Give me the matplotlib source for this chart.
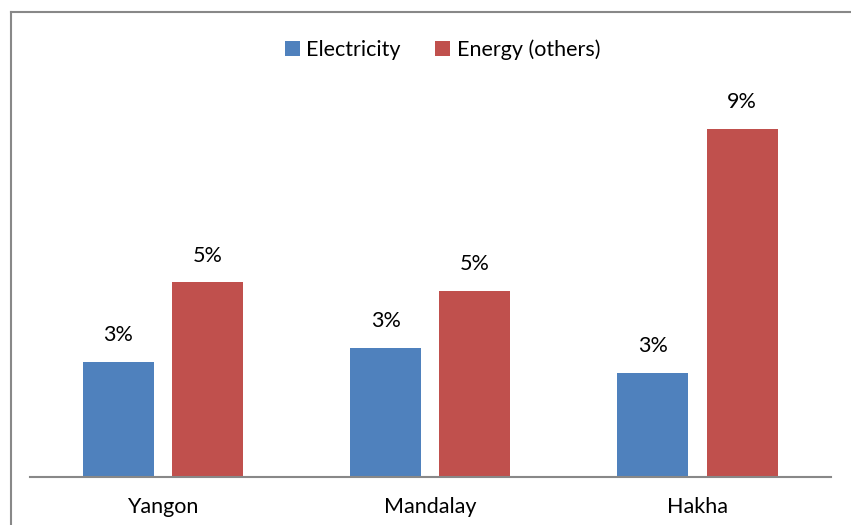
import matplotlib.pyplot as plt
import numpy as np
from matplotlib.lines import Line2D

# values (fractions)
cities = ['Yangon', 'Mandalay', 'Hakha']
electricity = [0.0293, 0.0328, 0.0265]
energy_others = [0.0494, 0.0472, 0.0882]
series_names = ['Electricity', 'Energy (others)']
colors = ['#4F81BD', '#C0504D']

plt.rcParams['font.family'] = ['Lato', 'DejaVu Sans']

fig = plt.figure(figsize=(8.51, 5.25), dpi=100)
ax = fig.add_axes([0.0347, 0.0905, 0.9418, 0.7533])

x = np.arange(len(cities))
w = 0.266
off = 0.167
b1 = ax.bar(x - off, electricity, w, color=colors[0], label=series_names[0])
b2 = ax.bar(x + off, energy_others, w, color=colors[1], label=series_names[1])

for bars in (b1, b2):
    for rect in bars:
        h = rect.get_height()
        ax.annotate(f'{h * 100:.0f}%', (rect.get_x() + rect.get_width() / 2, h),
                    xytext=(0, 19), textcoords='offset points',
                    ha='center', va='center', fontsize=15.5)

ax.set_xlim(-0.5, 2.5)
ax.set_ylim(0, 0.10)
ax.set_xticks(x)
ax.set_xticklabels(cities, fontsize=15.5)
ax.tick_params(axis='x', length=0, pad=14)
ax.set_yticks([])
for s in ['top', 'right', 'left']:
    ax.spines[s].set_visible(False)
ax.spines['bottom'].set_color('#888888')
ax.spines['bottom'].set_linewidth(1.5)

fig.legend(loc='center', bbox_to_anchor=(0.52, 0.905), ncol=2, frameon=False,
           fontsize=15.5, handlelength=0.7, handleheight=0.7, handletextpad=0.3,
           columnspacing=1.6)

# outer chart border (only left and top visible in the crop)
fig.add_artist(Line2D([11 / 851, 11 / 851], [0, 1 - 12 / 525], color='#888888', lw=1.5))
fig.add_artist(Line2D([11 / 851, 1], [1 - 12 / 525, 1 - 12 / 525], color='#888888', lw=1.5))

fig.savefig('out.png', dpi=100)
